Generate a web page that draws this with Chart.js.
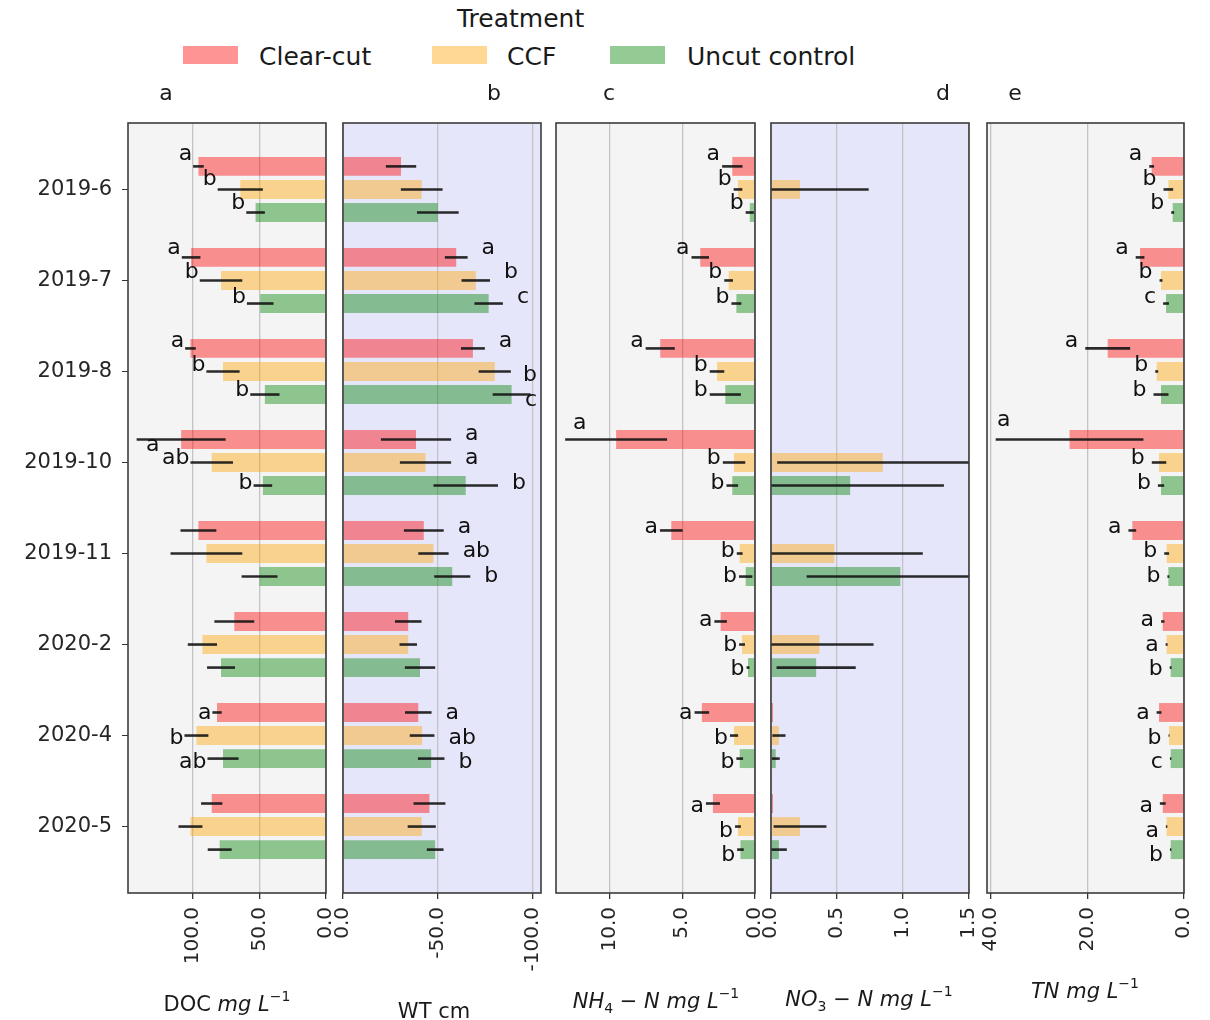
<!DOCTYPE html>
<html><head><meta charset="utf-8">
<script src="https://cdn.jsdelivr.net/npm/chart.js@4.4.0/dist/chart.umd.min.js"></script>
<style>
body{margin:0;background:#fff;width:1210px;height:1020px;position:relative;overflow:hidden;font-family:'DejaVu Sans',sans-serif;}
canvas{position:absolute;top:0;}
.lg{position:absolute;font-size:25px;color:#1a1a1a;white-space:nowrap;line-height:1;}
.sw{position:absolute;width:55px;height:18px;}
</style></head><body>
<div class="lg" style="left:457px;top:6px">Treatment</div>
<div class="sw" style="left:183px;top:46px;background:rgba(255,0,0,0.42)"></div>
<div class="lg" style="left:259px;top:44px">Clear-cut</div>
<div class="sw" style="left:432px;top:46px;background:rgba(255,165,0,0.42)"></div>
<div class="lg" style="left:507px;top:44px">CCF</div>
<div class="sw" style="left:610px;top:46px;background:rgba(0,128,0,0.42)"></div>
<div class="lg" style="left:687px;top:44px">Uncut control</div>
<script>
const categories = ['2019-6','2019-7','2019-8','2019-10','2019-11','2020-2','2020-4','2020-5'];
const seriesNames = ['Clear-cut','CCF','Uncut control'];

// DOC mg L-1
const docClear = [96, 101.5, 102, 109, 96, 69, 82, 86];
const docClearErr = [4, 7, 4, 33.5, 13.5, 15, 3.5, 8];
const docCCF = [64.5, 79, 77.5, 86, 90, 93, 97.5, 102];
const docCCFErr = [17, 16, 12.5, 16, 27, 11, 9, 9];
const docUncut = [53, 49.5, 46, 47.5, 50, 79, 77.5, 80];
const docUncutErr = [7, 10, 11, 7, 13.5, 10.5, 11.7, 9];
const docLetClear = ['a','a','a','a','','','a',''];
const docLetCCF = ['b','b','b','ab','','','b',''];
const docLetUncut = ['b','b','b','b','','','ab',''];
const docTicks = [0, 50, 100];

// WT cm
const wtClear = [-30.6, -59.7, -68.5, -38.5, -42.6, -34.4, -39.7, -45.6];
const wtClearErr = [8, 6, 6.3, 18.5, 10.5, 7, 7, 8.4];
const wtCCF = [-41.5, -70, -80, -43.5, -47.7, -34.4, -41.7, -41.5];
const wtCCFErr = [11, 7.5, 8.5, 13.5, 8, 4.6, 6.5, 7.4];
const wtUncut = [-50, -76.8, -88.9, -64.7, -57.6, -40.6, -46.5, -48.6];
const wtUncutErr = [11, 7.5, 10, 17, 9.5, 8, 7, 4.4];
const wtLetClear = ['','a','a','a','a','','a',''];
const wtLetCCF = ['','b','b','a','ab','','ab',''];
const wtLetUncut = ['','c','c','b','b','','b',''];
const wtTicks = [0, -50, -100];

// NH4-N mg L-1
const nh4Clear = [1.56, 3.76, 6.51, 9.54, 5.75, 2.36, 3.65, 2.89];
const nh4ClearErr = [0.7, 0.6, 1.0, 3.5, 0.78, 0.43, 0.5, 0.48];
const nh4CCF = [1.17, 1.81, 2.61, 1.44, 1.05, 0.89, 1.44, 1.17];
const nh4CCFErr = [0.3, 0.3, 0.5, 0.77, 0.2, 0.2, 0.28, 0.2];
const nh4Uncut = [0.36, 1.28, 2.04, 1.56, 0.64, 0.48, 1.05, 1.0];
const nh4UncutErr = [0.28, 0.34, 1.07, 0.4, 0.46, 0.1, 0.23, 0.23];
const nh4LetClear = ['a','a','a','a','a','a','a','a'];
const nh4LetCCF = ['b','b','b','b','b','b','b','b'];
const nh4LetUncut = ['b','b','b','b','b','b','b','b'];
const nh4Ticks = [0, 5, 10];

// NO3-N mg L-1
const no3Clear = [0, 0, 0, 0, 0, 0, 0.015, 0.015];
const no3ClearErr = [0, 0, 0, 0, 0, 0, 0, 0];
const no3CCF = [0.22, 0, 0, 0.847, 0.48, 0.367, 0.06, 0.22];
const no3CCFErr = [0.52, 0, 0, 0.80, 0.67, 0.41, 0.05, 0.2];
const no3Uncut = [0, 0, 0, 0.60, 0.98, 0.342, 0.036, 0.06];
const no3UncutErr = [0, 0, 0, 0.71, 0.71, 0.30, 0.03, 0.06];
const no3Empty = ['','','','','','','',''];
const no3Ticks = [0, 0.5, 1.0, 1.5];

// TN mg L-1
const tnClear = [6.7, 9.1, 15.8, 23.7, 10.7, 4.4, 5.17, 4.4];
const tnClearErr = [0.5, 0.9, 4.65, 15.3, 0.8, 0.35, 0.5, 0.6];
const tnCCF = [3.24, 4.76, 5.65, 5.17, 3.59, 3.6, 3.1, 3.6];
const tnCCFErr = [1.0, 0.3, 0.3, 1.5, 0.5, 0.2, 0.1, 0.15];
const tnUncut = [2.34, 3.72, 4.76, 4.76, 3.24, 2.76, 2.76, 2.76];
const tnUncutErr = [0.3, 0.6, 1.55, 0.65, 0.2, 0.2, 0.15, 0.15];
const tnLetClear = ['a','a','a','a','a','a','a','a'];
const tnLetCCF = ['b','b','b','b','b','a','b','a'];
const tnLetUncut = ['b','c','b','b','b','b','c','b'];
const tnTicks = [0, 20, 40];

const COLORS = ['rgba(255,0,0,0.42)','rgba(255,165,0,0.42)','rgba(0,128,0,0.42)'];
const FONT = "'DejaVu Sans', sans-serif";

const panels = [
  {id:'a', left:0, width:336, padL:0, padR:10, showY:true, min:0, max:149, reverse:true, ticks:docTicks, bg:'#f4f4f4',
   values:[docClear,docCCF,docUncut], errs:[docClearErr,docCCFErr,docUncutErr], letters:[docLetClear,docLetCCF,docLetUncut],
   gap:-1, clampPad:18, clampDy:11, tag:'a', tagX:166, titleX:227, titleY:1011,
   title:[['DOC ','n'],['mg','i'],[' ','n'],['L','i'],['\u22121','sup']]},
  {id:'b', left:328, width:228, padL:15, padR:15, showY:false, min:-104.4, max:0, reverse:true, ticks:wtTicks, bg:'#e6e6fa',
   values:[wtClear,wtCCF,wtUncut], errs:[wtClearErr,wtCCFErr,wtUncutErr], letters:[wtLetClear,wtLetCCF,wtLetUncut],
   gap:14, clampPad:4, clampDy:10, tag:'b', tagX:494, titleX:434, titleY:1018,
   title:[['WT cm','n']]},
  {id:'c', left:541, width:229, padL:15, padR:15, showY:false, min:0, max:13.67, reverse:true, ticks:nh4Ticks, bg:'#f4f4f4',
   values:[nh4Clear,nh4CCF,nh4Uncut], errs:[nh4ClearErr,nh4CCFErr,nh4UncutErr], letters:[nh4LetClear,nh4LetCCF,nh4LetUncut],
   gap:-2, clampPad:17, clampDy:-11, tag:'c', tagX:609, titleX:656, titleY:1008,
   title:[['NH','i'],['4','sub'],[' \u2212 ','n'],['N mg L','i'],['\u22121','sup']]},
  {id:'d', left:756, width:228, padL:15, padR:15, showY:false, min:0, max:1.5, reverse:false, ticks:no3Ticks, bg:'#e6e6fa',
   values:[no3Clear,no3CCF,no3Uncut], errs:[no3ClearErr,no3CCFErr,no3UncutErr], letters:[no3Empty,no3Empty,no3Empty],
   gap:0, clampPad:4, clampDy:0, tag:'d', tagX:943, titleX:869, titleY:1006,
   title:[['NO','i'],['3','sub'],[' \u2212 ','n'],['N mg L','i'],['\u22121','sup']]},
  {id:'e', left:972, width:227, padL:15, padR:15, showY:false, min:0, max:40.8, reverse:true, ticks:tnTicks, bg:'#f4f4f4',
   values:[tnClear,tnCCF,tnUncut], errs:[tnClearErr,tnCCFErr,tnUncutErr], letters:[tnLetClear,tnLetCCF,tnLetUncut],
   gap:-7, clampPad:10, clampDy:-14, tag:'e', tagX:1015, titleX:1085, titleY:998,
   title:[['TN mg L','i'],['\u22121','sup']]}
];

function panelPlugin(cfg){
  return {
    id:'panel_'+cfg.id,
    beforeDraw(chart){
      const {ctx, chartArea:a} = chart;
      ctx.save(); ctx.fillStyle = cfg.bg;
      ctx.fillRect(a.left, a.top, a.right-a.left, a.bottom-a.top);
      ctx.restore();
    },
    afterDatasetsDraw(chart){
      const {ctx, chartArea:a} = chart;
      const xs = chart.scales.x;
      ctx.save();
      ctx.beginPath(); ctx.rect(a.left, a.top, a.right-a.left, a.bottom-a.top); ctx.clip();
      ctx.strokeStyle = 'rgba(20,20,20,0.9)'; ctx.lineWidth = 2.6;
      chart.data.datasets.forEach((ds, s) => {
        const meta = chart.getDatasetMeta(s);
        meta.data.forEach((bar, i) => {
          const v = ds.data[i].x, e = ds.errs[i];
          if (!e) return;
          const p1 = xs.getPixelForValue(v - e), p2 = xs.getPixelForValue(v + e);
          ctx.beginPath(); ctx.moveTo(p1, bar.y); ctx.lineTo(p2, bar.y); ctx.stroke();
        });
      });
      ctx.restore();
      ctx.save();
      ctx.font = '22px ' + FONT; ctx.fillStyle = '#111'; ctx.textAlign = 'left'; ctx.textBaseline = 'alphabetic';
      const p0 = xs.getPixelForValue(0);
      chart.data.datasets.forEach((ds, s) => {
        const meta = chart.getDatasetMeta(s);
        meta.data.forEach((bar, i) => {
          const txt = ds.letters[i];
          if (!txt) return;
          const v = ds.data[i].x, e = ds.errs[i];
          const end = v >= 0 ? v + e : v - e;
          const pe = xs.getPixelForValue(end);
          const dir = pe < p0 ? -1 : 1;
          const w = ctx.measureText(txt).width;
          let dy = -12 + 2.1*i + 1.5*s;
          let left;
          if (dir < 0) {
            left = pe + cfg.gap - w;
            if (left < a.left + cfg.clampPad) { left = a.left + cfg.clampPad; dy += cfg.clampDy; }
          } else {
            left = pe + cfg.gap;
            if (left + w > a.right - cfg.clampPad) { left = a.right - cfg.clampPad - w; dy += cfg.clampDy; }
          }
          ctx.fillText(txt, left, bar.y + dy + 6);
        });
      });
      ctx.restore();
    },
    afterDraw(chart){
      const {ctx, chartArea:a} = chart;
      ctx.save();
      ctx.strokeStyle = '#3c3c3c'; ctx.lineWidth = 1.6;
      ctx.strokeRect(a.left, a.top, a.right-a.left, a.bottom-a.top);
      ctx.fillStyle = '#1a1a1a'; ctx.font = '22px ' + FONT; ctx.textAlign = 'center'; ctx.textBaseline = 'alphabetic';
      ctx.fillText(cfg.tag, cfg.tagX - cfg.left, 100);
      const segs = cfg.title.map(([t, k]) => {
        const f = (k === 'i' ? 'italic ' : '') + ((k === 'sup' || k === 'sub') ? '14px ' : '21px ') + FONT;
        ctx.font = f;
        return {t, k, f, w: ctx.measureText(t).width};
      });
      const total = segs.reduce((acc, g) => acc + g.w, 0);
      let x = cfg.titleX - cfg.left - total/2;
      ctx.textAlign = 'left';
      segs.forEach(g => {
        ctx.font = g.f;
        const yy = cfg.titleY + (g.k === 'sup' ? -10 : g.k === 'sub' ? 5 : 0);
        ctx.fillText(g.t, x, yy);
        x += g.w;
      });
      ctx.restore();
    }
  };
}

panels.forEach(cfg => {
  const cv = document.createElement('canvas');
  cv.width = cfg.width; cv.height = 1020;
  cv.style.left = cfg.left + 'px';
  cv.style.width = cfg.width + 'px'; cv.style.height = '1020px';
  document.body.appendChild(cv);
  new Chart(cv.getContext('2d'), {
    type: 'bar',
    data: {
      datasets: cfg.values.map((vals, s) => ({
        label: seriesNames[s],
        data: vals.map((v, i) => ({x: v, y: i})),
        backgroundColor: COLORS[s],
        borderWidth: 0,
        categoryPercentage: 0.76,
        barPercentage: 0.82,
        errs: cfg.errs[s],
        letters: cfg.letters[s]
      }))
    },
    options: {
      indexAxis: 'y',
      responsive: false,
      animation: false,
      devicePixelRatio: 1,
      layout: {padding: {left: cfg.padL, right: cfg.padR, top: 123, bottom: 0}},
      plugins: {legend: {display: false}, tooltip: {enabled: false}},
      scales: {
        x: {
          type: 'linear', min: cfg.min, max: cfg.max, reverse: cfg.reverse, offset: false,
          afterBuildTicks: sc => { sc.ticks = cfg.ticks.map(v => ({value: v})); },
          afterFit: sc => { sc.height = 127; sc.paddingLeft = 0; sc.paddingRight = 0; },
          grid: {color: '#c4c4c4', lineWidth: 1.3, tickColor: '#333', tickLength: 6, drawTicks: true, offset: false},
          border: {display: false},
          ticks: {minRotation: 90, maxRotation: 90, autoSkip: false, padding: 8,
                  font: {family: FONT, size: 20}, color: '#262626',
                  callback: v => Number(v).toFixed(1)}
        },
        y: {
          type: 'linear', min: -0.73, max: 7.73, reverse: true, display: cfg.showY, offset: false,
          afterBuildTicks: sc => { sc.ticks = categories.map((c, i) => ({value: i})); },
          afterFit: sc => { if (cfg.showY) sc.width = 128; },
          grid: {display: true, drawOnChartArea: false, drawTicks: true, tickLength: 6, tickColor: '#333', offset: false},
          border: {display: false},
          ticks: {padding: 10, autoSkip: false, font: {family: FONT, size: 21}, color: '#262626',
                  callback: v => categories[v] !== undefined ? categories[v] : ''}
        }
      }
    },
    plugins: [panelPlugin(cfg)]
  });
});
</script>
</body></html>
